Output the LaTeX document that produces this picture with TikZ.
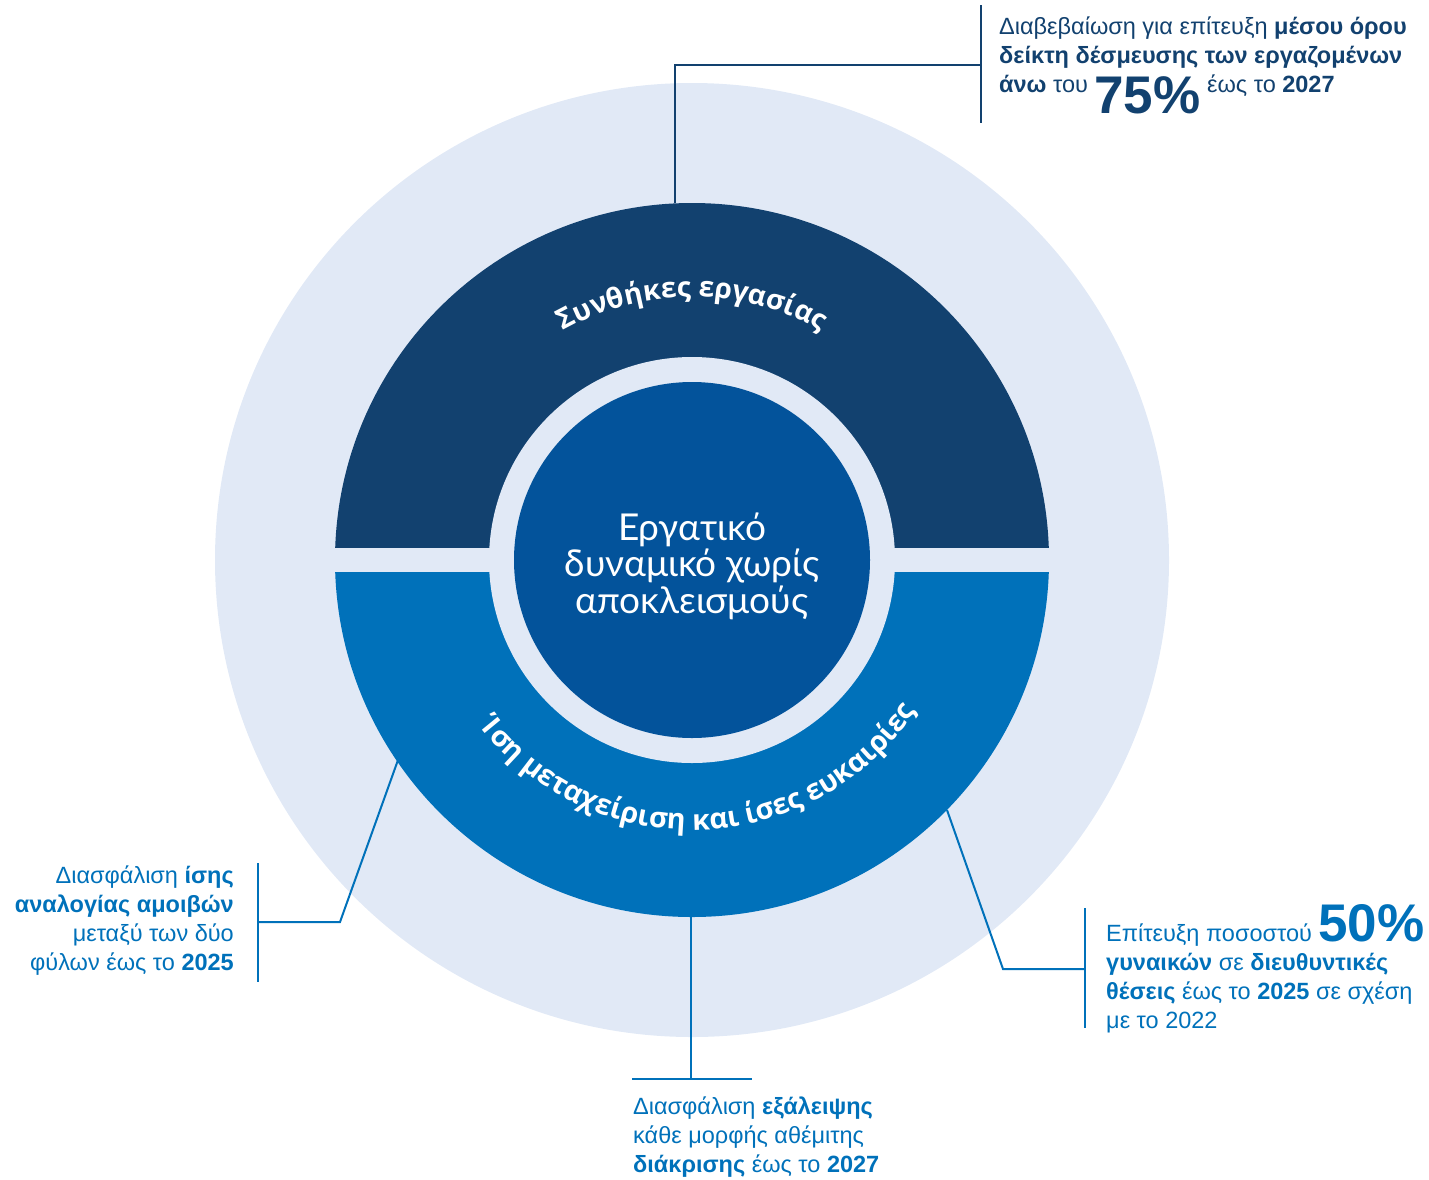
\documentclass[tikz,border=0pt]{standalone}
\usepackage{fontspec}
\setmainfont{Liberation Sans}
\newfontfamily\ringfont{Open Sans}
\newfontfamily\hubfont{Lato}
\usetikzlibrary{decorations.text}
\definecolor{pale}{HTML}{E1E9F6}
\definecolor{navy}{HTML}{12416F}
\definecolor{ocean}{HTML}{0071BA}
\definecolor{core}{HTML}{03539B}

\begin{document}
\begin{tikzpicture}[x=1pt,y=1pt,
  goal/.style={inner sep=0pt,text=ocean,font=\fontsize{23.5}{28.7}\selectfont},
  lead/.style={ocean,line width=2pt},
  ringtext/.style={decorate,decoration={text along path,text align=center,text={#1}}}]
\useasboundingbox (0,0) rectangle (1429,-1179);
\newdimen\R
\R=357pt;
\begin{scope}[shift={(692,-560)}]
\fill[pale] (0,0) circle (477);
\fill[navy] (180:\R) arc (180:0:\R) -- cycle;
\fill[ocean] (180:\R) arc (180:360:\R) -- cycle;
\fill[pale] (-362,12) rectangle (362,-12);
\fill[pale] (0,0) circle (203);
\fill[core] (0,0) circle (178);
\path[ringtext={|\ringfont\bfseries\fontsize{28}{28}\selectfont\color{white}|Συνθήκες εργασίας}]
    (150:263) arc (150:30:263);
\path[ringtext={|\ringfont\bfseries\fontsize{28.5}{28.5}\selectfont\color{white}|Ίση μεταχείριση και ίσες ευκαιρίες}]
    (212:270) arc (212:332:270);
\end{scope}
\node[align=center,text=white,inner sep=0pt,font=\hubfont\fontsize{37}{36.5}\selectfont] (hub) at (692,-566)
    {Εργατικό\\δυναμικό χωρίς\\αποκλεισμούς};
% targets
\node[goal,text=navy,anchor=base west,align=left] (g1) at (999,-92)
    {Διαβεβαίωση για επίτευξη \textbf{μέσου όρου}\\
     \textbf{δείκτη δέσμευσης των εργαζομένων}\\
     \textbf{άνω} του \raisebox{-21pt}{\bfseries\fontsize{53}{53}\selectfont 75\%} έως το \textbf{2027}};
\node[goal,anchor=base east,align=right] (g2) at (234,-970)
    {Διασφάλιση \textbf{ίσης}\\\textbf{αναλογίας αμοιβών}\\μεταξύ των δύο\\φύλων έως το \textbf{2025}};
\node[goal,anchor=base west,align=left] (g3) at (633,-1172)
    {Διασφάλιση \textbf{εξάλειψης}\\κάθε μορφής αθέμιτης\\\textbf{διάκρισης} έως το \textbf{2027}};
\node[goal,anchor=base west,align=left] (g4) at (1106,-1028)
    {Επίτευξη ποσοστού {\bfseries\fontsize{53}{53}\selectfont 50\%}\\
     \textbf{γυναικών} σε \textbf{διευθυντικές}\\
     \textbf{θέσεις} έως το \textbf{2025} σε σχέση\\με το 2022};
% leaders
\coordinate (a1) at (675,-203);
\coordinate (k1) at (981,-65);
\coordinate (u1) at (981,-5);
\coordinate (v1) at (981,-123);
\draw[lead,navy] (a1) |- (k1);
\draw[lead,navy] (u1) -- (v1);
\coordinate (a2) at (398,-760);
\coordinate (j2) at (340,-922);
\coordinate (k2) at (258,-922);
\coordinate (u2) at (258,-863);
\coordinate (v2) at (258,-982);
\draw[lead] (a2) -- (j2) -- (k2);
\draw[lead] (u2) -- (v2);
\coordinate (a3) at (691,-917);
\coordinate (k3) at (691,-1079);
\coordinate (u3) at (632,-1079);
\coordinate (v3) at (752,-1079);
\draw[lead] (a3) -- (k3);
\draw[lead] (u3) -- (v3);
\coordinate (a4) at (947,-810);
\coordinate (j4) at (1003,-969);
\coordinate (k4) at (1085,-969);
\coordinate (u4) at (1085,-908);
\coordinate (v4) at (1085,-1028);
\draw[lead] (a4) -- (j4) -- (k4);
\draw[lead] (u4) -- (v4);
\end{tikzpicture}
\end{document}
